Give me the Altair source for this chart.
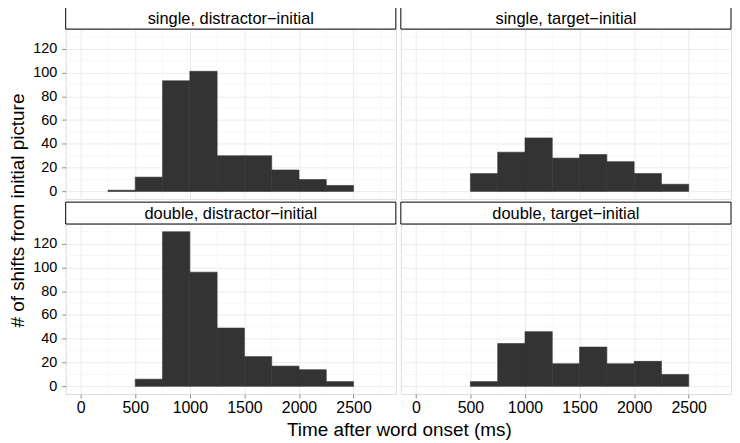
import altair as alt
import pandas as pd

# ---- data ----
bin_starts = [250, 500, 750, 1000, 1250, 1500, 1750, 2000, 2250]
bin_width = 250
single_distractor = [1, 12, 93, 101, 30, 30, 18, 10, 5]
single_target = [0, 15, 33, 45, 28, 31, 25, 15, 6]
double_distractor = [0, 6, 130, 96, 49, 25, 17, 14, 4]
double_target = [0, 4, 36, 46, 19, 33, 19, 21, 10]
panel_titles = [
    "single, distractor\u2212initial",
    "single, target\u2212initial",
    "double, distractor\u2212initial",
    "double, target\u2212initial",
]
x_ticks = [0, 500, 1000, 1500, 2000, 2500]
x_minor = [250, 750, 1250, 1750, 2250, 2750]
y_ticks = [0, 20, 40, 60, 80, 100, 120]
y_minor = [10, 30, 50, 70, 90, 110, 130]

W, H, STRIP = 332, 171, 22
FONT = "Liberation Sans"

xscale = alt.Scale(domain=[-137.5, 2887.5], nice=False, zero=False)
yscale = alt.Scale(domain=[-6.5, 136.5], nice=False, zero=False)


def panel(title, counts, left, bottom):
    df = pd.DataFrame({
        "start": bin_starts,
        "end": [b + bin_width for b in bin_starts],
        "count": counts,
    })
    df = df[df["count"] > 0]

    if bottom:
        xaxis = alt.Axis(values=x_ticks, format="d", grid=True, gridColor="#ebebeb", domain=False,
                         ticks=True, tickSize=4, tickColor="#8c8c8c", labelPadding=2,
                         labelFontSize=16, labelColor="#000000", labelFont=FONT,
                         title="Time after word onset (ms)" if left else None,
                         titleFontSize=19, titleFontWeight="normal", titleColor="#000000",
                         titleFont=FONT, titlePadding=5, titleX=335)
    else:
        xaxis = alt.Axis(values=x_ticks, grid=True, gridColor="#ebebeb", domain=False,
                         ticks=False, labels=False, title=None)
    if left:
        yaxis = alt.Axis(values=y_ticks, format="d", grid=True, gridColor="#ebebeb", domain=False,
                         ticks=True, tickSize=4, tickColor="#8c8c8c", labelPadding=5,
                         labelFontSize=14.5, labelColor="#000000", labelFont=FONT,
                         title="# of shifts from initial picture" if not bottom else None,
                         titleFontSize=19, titleFontWeight="normal", titleColor="#000000",
                         titleFont=FONT, titlePadding=5, titleY=182)
    else:
        yaxis = alt.Axis(values=y_ticks, grid=True, gridColor="#ebebeb", domain=False,
                         ticks=False, labels=False, title=None)

    minor_x = alt.Chart(pd.DataFrame({"v": x_minor})).mark_rule(
        color="#f7f7f7", strokeWidth=1
    ).encode(x=alt.X("v:Q", scale=xscale, axis=xaxis))
    minor_y = alt.Chart(pd.DataFrame({"v": y_minor})).mark_rule(
        color="#f7f7f7", strokeWidth=1
    ).encode(y=alt.Y("v:Q", scale=yscale, axis=yaxis))

    bars = alt.Chart(df).mark_rect(
        color="#333333", stroke="#333333", strokeWidth=0.6
    ).encode(
        x=alt.X("start:Q", scale=xscale, axis=xaxis),
        x2="end:Q",
        y=alt.Y("count:Q", scale=yscale, axis=yaxis),
        y2=alt.datum(0),
    )

    strip_df = pd.DataFrame({"label": [title]})
    strip_box = alt.Chart(strip_df).mark_rect(
        fill="#ffffff", stroke="#000000", strokeWidth=1
    ).encode(x=alt.value(0), x2=alt.value(W), y=alt.value(-STRIP), y2=alt.value(0))
    strip_text = alt.Chart(strip_df).mark_text(
        fontSize=16.5, font=FONT, color="#000000", baseline="middle", align="center"
    ).encode(x=alt.value(W / 2), y=alt.value(-STRIP / 2 + 0.5), text="label:N")

    return alt.layer(minor_x, minor_y, bars, strip_box, strip_text).properties(
        width=W, height=H
    )


p1 = panel(panel_titles[0], single_distractor, True, False)
p2 = panel(panel_titles[1], single_target, False, False)
p3 = panel(panel_titles[2], double_distractor, True, True)
p4 = panel(panel_titles[3], double_target, False, True)

chart = alt.concat(
    p1, p2, p3, p4, columns=2, spacing={"row": 25, "column": 5}, bounds="flush"
).properties(
    padding={"left": 0, "top": -3, "right": 0, "bottom": 0}
).configure_view(
    stroke="#c4c4c4", strokeWidth=1
).configure(background="#ffffff")

chart.save("out.html", embed_options={"renderer": "svg", "actions": False})
